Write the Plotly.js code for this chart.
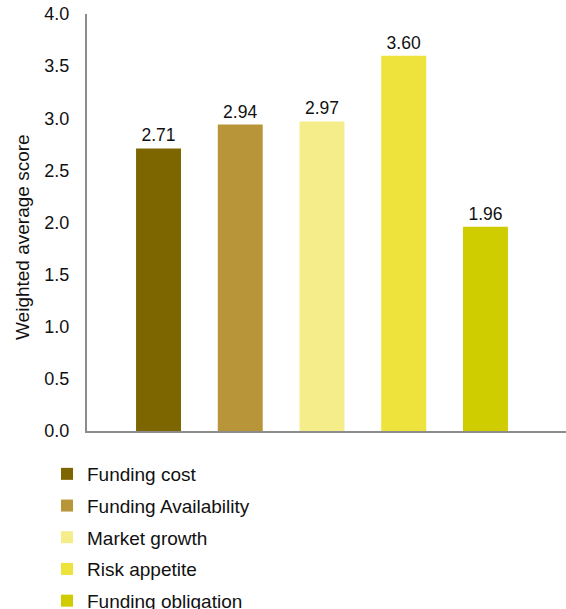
<!DOCTYPE html>
<html>
<head>
<meta charset="utf-8">
<script src="https://cdn.plot.ly/plotly-3.0.1.min.js"></script>
<style>html,body{margin:0;padding:0;background:#fff;}#chart{width:566px;height:609px;}</style>
</head>
<body>
<div id="chart"></div>
<script>
const categories = ["Funding cost", "Funding Availability", "Market growth", "Risk appetite", "Funding obligation"];
const scores = [2.71, 2.94, 2.97, 3.60, 1.96];
const scoreLabels = ["2.71", "2.94", "2.97", "3.60", "1.96"];
const colors = ["#7D6600", "#B9953A", "#F5EC8A", "#EEE23C", "#CFCC00"];
const yTickVals = [0, 0.5, 1, 1.5, 2, 2.5, 3, 3.5, 4];
const yTickText = ["0.0", "0.5", "1.0", "1.5", "2.0", "2.5", "3.0", "3.5", "4.0"];
const yAxisTitle = "Weighted average score";

const font = "Liberation Sans, Arial, Helvetica, sans-serif";

const traces = categories.map((c, i) => ({
  type: "bar",
  name: c,
  x: [i],
  y: [scores[i]],
  text: [scoreLabels[i]],
  textposition: "outside",
  cliponaxis: false,
  textfont: {family: font, size: 17.5, color: "#111"},
  marker: {color: colors[i]},
  width: 0.55,
  legendgroup: "g" + i,
  hoverinfo: "name+y"
}));

const plotH = 609 - 14 - 178;
const plotW = 566 - 87;

const layout = {
  width: 566,
  height: 609,
  margin: {l: 87, r: 0, t: 14, b: 178, autoexpand: false},
  paper_bgcolor: "#fff",
  plot_bgcolor: "#fff",
  barmode: "overlay",
  showlegend: true,
  font: {family: font, color: "#111"},
  xaxis: {
    range: [-0.875, 4.985],
    showticklabels: false,
    showgrid: false,
    zeroline: false,
    showline: true,
    linecolor: "#8C8C8C",
    linewidth: 2,
    ticks: "",
    fixedrange: true
  },
  yaxis: {
    range: [0, 4.0],
    tickvals: yTickVals,
    ticktext: yTickText,
    showgrid: false,
    zeroline: false,
    showline: true,
    linecolor: "#8C8C8C",
    linewidth: 2,
    ticks: "outside",
    ticklen: 12,
    tickcolor: "rgba(0,0,0,0)",
    tickfont: {family: font, size: 18, color: "#111"},
    fixedrange: true
  },
  annotations: [{
    text: yAxisTitle,
    textangle: -90,
    xref: "paper",
    yref: "paper",
    x: (22 - 87) / plotW,
    y: (431 - 237) / plotH,
    xanchor: "center",
    yanchor: "middle",
    showarrow: false,
    font: {family: font, size: 19, color: "#111"}
  }],
  legend: {
    orientation: "v",
    x: (47 - 87) / plotW,
    y: -(455 - 431) / plotH,
    xanchor: "left",
    yanchor: "top",
    traceorder: "grouped",
    tracegroupgap: 4,
    font: {family: font, size: 19, color: "#111"},
    bgcolor: "rgba(0,0,0,0)"
  }
};

Plotly.newPlot("chart", traces, layout, {displayModeBar: false, staticPlot: true});
</script>
</body>
</html>
